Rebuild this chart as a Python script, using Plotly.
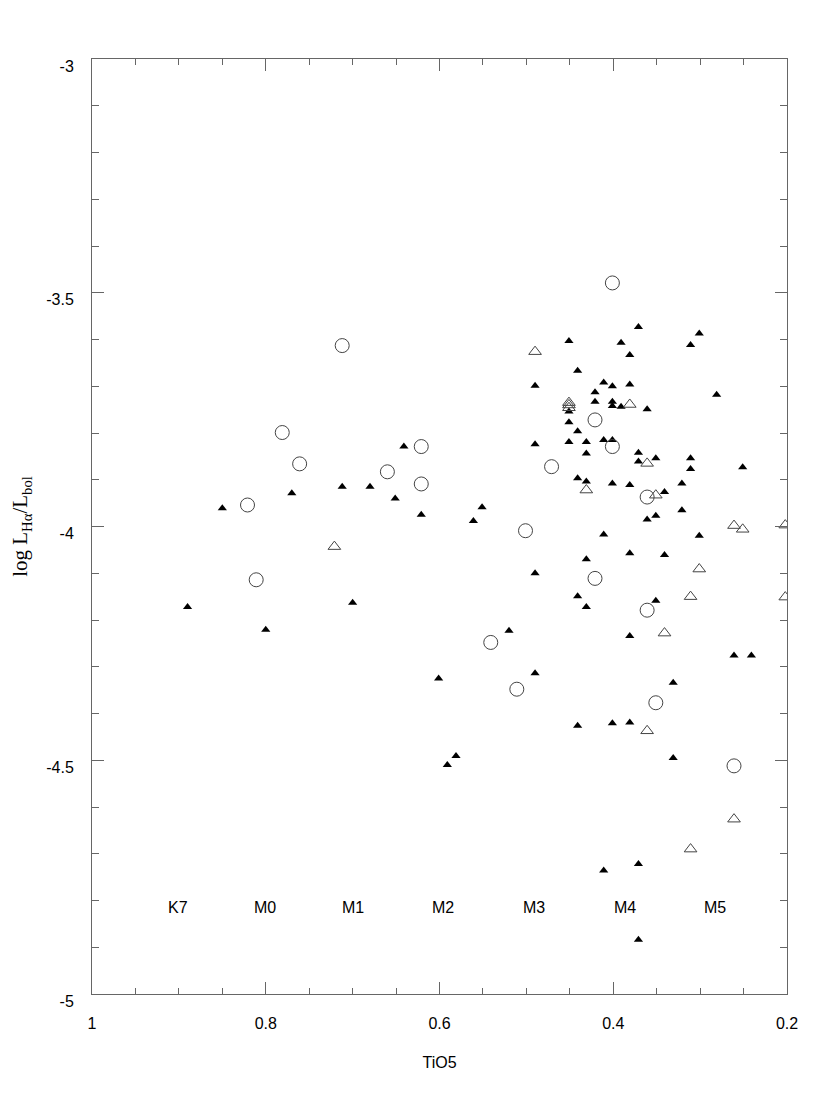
import plotly.graph_objects as go

# Filled triangles
filled_x = [0.890, 0.850, 0.800, 0.770, 0.712, 0.700, 0.680, 0.651, 0.641, 0.621,
            0.601, 0.591, 0.581, 0.561, 0.551, 0.520, 0.490, 0.490, 0.490, 0.490,
            0.451, 0.441, 0.451, 0.451, 0.441, 0.451, 0.431, 0.431, 0.441, 0.431,
            0.421, 0.421, 0.411, 0.401, 0.401, 0.401, 0.391, 0.391, 0.381, 0.381,
            0.371, 0.361, 0.411, 0.401, 0.371, 0.371, 0.351, 0.311, 0.311, 0.251,
            0.401, 0.381, 0.321, 0.341, 0.301, 0.311, 0.281, 0.321, 0.351, 0.361,
            0.411, 0.301, 0.431, 0.381, 0.341, 0.441, 0.431, 0.351, 0.381, 0.261,
            0.241, 0.331, 0.441, 0.401, 0.381, 0.331, 0.411, 0.371, 0.371]
filled_y = [-4.172, -3.961, -4.221, -3.929, -3.915, -4.163, -3.915, -3.940, -3.829, -3.975,
            -4.325, -4.510, -4.491, -3.988, -3.959, -4.223, -4.314, -4.100, -3.824, -3.699,
            -3.603, -3.667, -3.754, -3.777, -3.796, -3.819, -3.819, -3.844, -3.897, -3.904,
            -3.713, -3.733, -3.692, -3.700, -3.733, -3.742, -3.607, -3.744, -3.633, -3.696,
            -3.573, -3.749, -3.815, -3.815, -3.842, -3.861, -3.854, -3.854, -3.877, -3.873,
            -3.908, -3.911, -3.908, -3.926, -3.587, -3.612, -3.718, -3.965, -3.977, -3.985,
            -4.017, -4.020, -4.070, -4.057, -4.061, -4.149, -4.172, -4.159, -4.234, -4.276,
            -4.276, -4.334, -4.426, -4.421, -4.419, -4.495, -4.736, -4.722, -4.884]

# Open triangles
open_tri_x = [0.721, 0.490, 0.451, 0.451, 0.451, 0.431, 0.381, 0.361, 0.351, 0.261,
              0.251, 0.202, 0.301, 0.311, 0.202, 0.341, 0.361, 0.261, 0.311]
open_tri_y = [-4.043, -3.626, -3.735, -3.740, -3.746, -3.922, -3.739, -3.865, -3.933, -3.998,
              -4.006, -3.997, -4.091, -4.150, -4.151, -4.228, -4.437, -4.626, -4.690]

# Open circles
circle_x = [0.712, 0.781, 0.761, 0.821, 0.811, 0.660, 0.621, 0.621, 0.501, 0.541,
            0.511, 0.471, 0.421, 0.401, 0.421, 0.361, 0.361, 0.351, 0.261, 0.401]
circle_y = [-3.613, -3.799, -3.866, -3.954, -4.114, -3.883, -3.829, -3.909, -4.009, -4.248,
            -4.348, -3.872, -3.772, -3.829, -4.111, -3.937, -4.179, -4.377, -4.512, -3.479]

# Spectral type labels
spt_labels = ["K7", "M0", "M1", "M2", "M3", "M4", "M5"]
spt_x = [0.901, 0.801, 0.700, 0.596, 0.491, 0.387, 0.283]
spt_y = [-4.815] * 7

x_ticks = [1, 0.8, 0.6, 0.4, 0.2]
x_ticktext = ["1", "0.8", "0.6", "0.4", "0.2"]
y_ticks = [-5, -4.5, -4, -3.5, -3]
y_ticktext = ["-5", "-4.5", "-4", "-3.5", "-3"]

AX = "#666666"

fig = go.Figure()
fig.add_trace(go.Scatter(x=filled_x, y=filled_y, mode="markers",
                         marker=dict(symbol="triangle-up", size=8, color="black",
                                     line=dict(width=0))))
fig.add_trace(go.Scatter(x=open_tri_x, y=open_tri_y, mode="markers",
                         marker=dict(symbol="triangle-up-open", size=11, color="#444444",
                                     line=dict(width=1, color="#444444"))))
fig.add_trace(go.Scatter(x=circle_x, y=circle_y, mode="markers",
                         marker=dict(symbol="circle-open", size=14, color="#444444",
                                     line=dict(width=1, color="#444444"))))

for lab, xx, yy in zip(spt_labels, spt_x, spt_y):
    fig.add_annotation(x=xx, y=yy, text=lab, showarrow=False,
                       font=dict(family="Liberation Sans", size=16, color="black"))

fig.update_layout(
    width=814, height=1090,
    margin=dict(l=80, r=35, t=51, b=104),
    paper_bgcolor="white", plot_bgcolor="white",
    showlegend=False,
    xaxis=dict(
        range=[1, 0.2], tickmode="array", tickvals=x_ticks, ticktext=x_ticktext,
        ticks="inside", ticklen=12, tickwidth=1, tickcolor=AX,
        showline=True, linecolor=AX, linewidth=1, mirror="allticks",
        showgrid=False, zeroline=False,
        minor=dict(ticks="inside", ticklen=6, tickwidth=1, tickcolor=AX,
                   dtick=0.05, tick0=0, showgrid=False),
        tickfont=dict(family="Liberation Sans", size=16, color="black"),
        ticklabelstandoff=15,
        title=dict(text="TiO5", font=dict(family="Liberation Sans", size=16, color="black"),
                   standoff=25),
    ),
    yaxis=dict(
        range=[-5, -3], tickmode="array", tickvals=y_ticks, ticktext=y_ticktext,
        ticks="inside", ticklen=12, tickwidth=1, tickcolor=AX,
        showline=True, linecolor=AX, linewidth=1, mirror="allticks",
        showgrid=False, zeroline=False,
        minor=dict(ticks="inside", ticklen=7, tickwidth=1, tickcolor=AX,
                   dtick=0.1, tick0=-5, showgrid=False),
        tickfont=dict(family="Liberation Sans", size=16, color="black"),
        ticklabelstandoff=14, ticklabelshift=7,
        title=dict(text="log L<sub>Hα</sub>/L<sub>bol</sub>",
                   font=dict(family="Liberation Serif", size=21, color="black"),
                   standoff=12),
    ),
)

fig.write_html("out.html")
